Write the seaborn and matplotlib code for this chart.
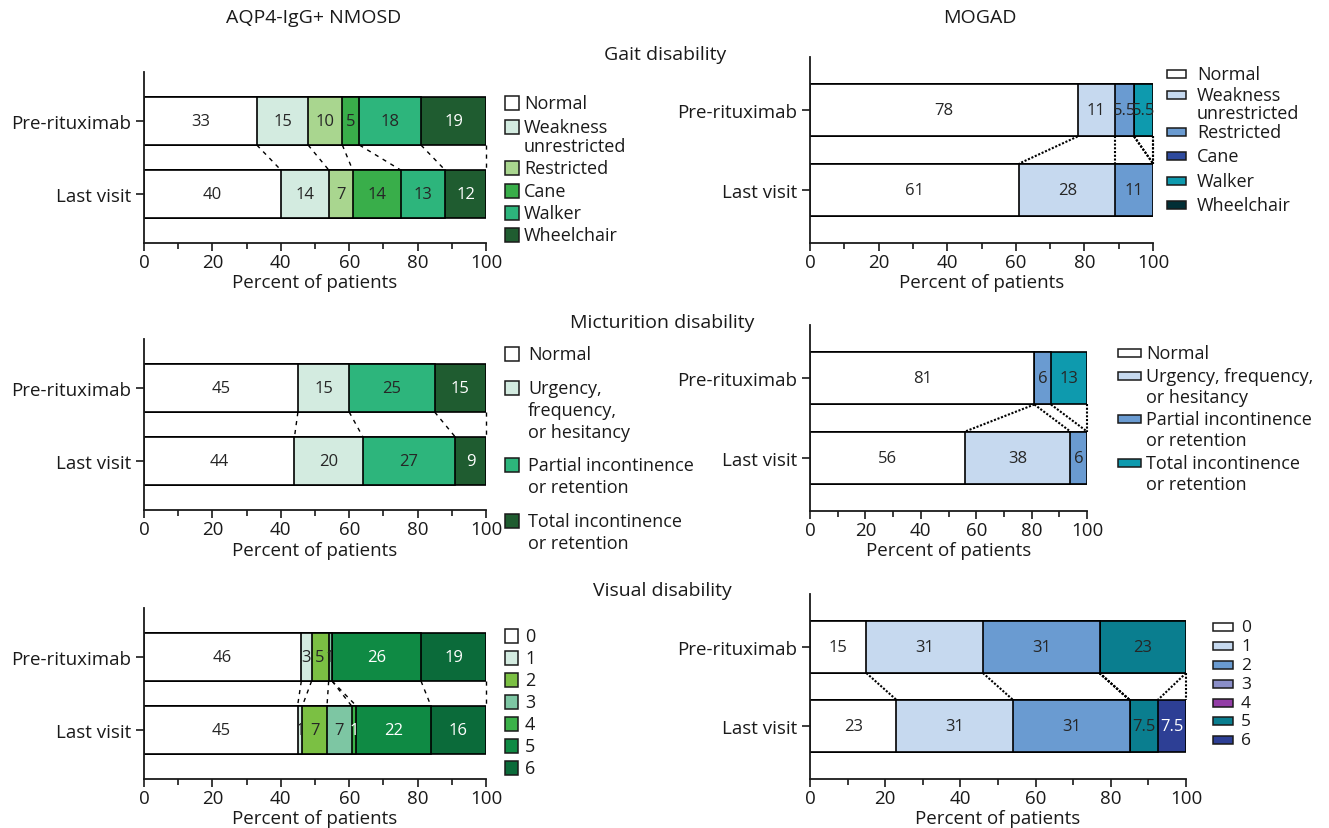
import numpy as np
import pandas as pd
import matplotlib
matplotlib.use("Agg")
import matplotlib.pyplot as plt
import seaborn as sns
from matplotlib.patches import Rectangle

# ---------------- data ----------------
TIMEPOINTS = ["Pre-rituximab", "Last visit"]

gait_cats = ["Normal", "Weakness\nunrestricted", "Restricted", "Cane", "Walker", "Wheelchair"]
gait_nmosd_pre = [33, 15, 10, 5, 18, 19]
gait_nmosd_last = [40, 14, 7, 14, 13, 12]
gait_mogad_pre = [78, 11, 5.5, 0, 5.5, 0]
gait_mogad_last = [61, 28, 11, 0, 0, 0]

mict_cats_nmosd = ["Normal", "Urgency,\nfrequency,\nor hesitancy",
                   "Partial incontinence\nor retention", "Total incontinence\nor retention"]
mict_cats_mogad = ["Normal", "Urgency, frequency,\nor hesitancy",
                   "Partial incontinence\nor retention", "Total incontinence\nor retention"]
mict_nmosd_pre = [45, 15, 25, 15]
mict_nmosd_last = [44, 20, 27, 9]
mict_mogad_pre = [81, 0, 6, 13]
mict_mogad_last = [56, 38, 6, 0]

vis_cats = ["0", "1", "2", "3", "4", "5", "6"]
vis_nmosd_pre = [46, 3, 5, 1, 0, 26, 19]
vis_nmosd_last = [44.9, 1.4, 7.2, 7.2, 1.4, 21.8, 16.1]
vis_mogad_pre = [15, 31, 31, 0, 0, 23, 0]
vis_mogad_last = [23, 31, 31, 0, 0, 7.5, 7.5]

# ---------------- styles ----------------
DK, WH = "#262626", "#ffffff"
gait_green = ["#ffffff", "#d3ebe0", "#a9d68f", "#39ae4a", "#2db57c", "#1f5c30"]
gait_green_txt = [DK, DK, DK, DK, DK, WH]
mict_green = ["#ffffff", "#d3ebe0", "#2db57c", "#1f5c30"]
mict_green_txt = [DK, DK, DK, WH]
vis_green = ["#ffffff", "#d3ebe0", "#7bc043", "#7dc6a3", "#3bb149", "#0f8a44", "#0b6b3a"]
vis_green_txt = [DK, DK, DK, DK, WH, WH, WH]

gait_blue = ["#ffffff", "#c6d9ef", "#6a9bd1", "#2e4a9e", "#0e9aae", "#022f36"]
gait_blue_txt = [DK, DK, DK, WH, DK, WH]
mict_blue = ["#ffffff", "#c6d9ef", "#6a9bd1", "#0e9aae"]
mict_blue_txt = [DK, DK, DK, DK]
vis_blue = ["#ffffff", "#c6d9ef", "#6a9bd1", "#8a8ec8", "#933ea6", "#0a7e8f", "#2d3f95"]
vis_blue_txt = [DK, DK, DK, DK, WH, DK, WH]

sns.set_style("ticks")
plt.rcParams["font.family"] = ["Open Sans", "DejaVu Sans"]
plt.rcParams["text.color"] = "#1a1a1a"
plt.rcParams["axes.labelcolor"] = "#1a1a1a"
plt.rcParams["xtick.color"] = "#1a1a1a"
plt.rcParams["ytick.color"] = "#1a1a1a"

W, H = 1329, 829
fig = plt.figure(figsize=(W / 100, H / 100), dpi=100)
fig.patch.set_facecolor("white")

FS_TICK = 13.5
FS_LAB = 12
FS_LEG = 13
BAR_H = 0.66


def fx(px):
    return px / W


def fy(py):
    return 1 - py / H


def fmt(v):
    return f"{v:g}" if float(2 * v).is_integer() else f"{v:.0f}"


def make_df(cats, pre, last):
    rows = []
    for t, vals in zip(TIMEPOINTS, [pre, last]):
        cum = np.cumsum(vals)
        for c, v, cu in zip(cats, vals, cum):
            rows.append(dict(time=t, category=c, value=v, cum=cu))
    return pd.DataFrame(rows)


def panel(rect, cats, pre, last, colors, tcolors, dotted):
    x0, top, x1, bot = rect
    ax = fig.add_axes([fx(x0), fy(bot), (x1 - x0) / W, (bot - top) / H])
    df = make_df(cats, pre, last)
    for cat, col in reversed(list(zip(cats, colors))):
        sub = df[df.category == cat]
        sns.barplot(data=sub, x="cum", y="time", order=TIMEPOINTS, orient="h",
                    color=col, saturation=1, edgecolor="black", linewidth=1.2,
                    width=BAR_H, errorbar=None, ax=ax)
    for i, t in enumerate(TIMEPOINTS):
        sub = df[df.time == t]
        for (_, r), tc in zip(sub.iterrows(), tcolors):
            if r.value > 0:
                ax.text(r.cum - r.value / 2, i, fmt(r.value), ha="center",
                        va="center", color=tc, fontsize=FS_LAB)
    cp = df[df.time == TIMEPOINTS[0]].cum.values
    cl = df[df.time == TIMEPOINTS[1]].cum.values
    for a, b in zip(cp, cl):
        if dotted:
            ax.plot([a, b], [BAR_H / 2, 1 - BAR_H / 2], color="black", lw=1.5,
                    ls=(0, (1, 0.8)), clip_on=False, zorder=3)
        else:
            ax.plot([a, b], [BAR_H / 2, 1 - BAR_H / 2], color="black", lw=1.0,
                    ls=(0, (3, 3.5)), clip_on=False, zorder=3)
    ax.set_xlim(0, 100)
    ax.set_ylim(1.67, -0.67)
    ax.set_xticks(range(0, 101, 20))
    ax.set_xticks(range(10, 100, 20), minor=True)
    ax.tick_params(axis="x", which="major", length=6, width=1.2, pad=1, labelsize=FS_TICK)
    ax.tick_params(axis="x", which="minor", length=4, width=1.2)
    ax.tick_params(axis="y", length=6, width=1.2, pad=3, labelsize=FS_TICK)
    ax.set_ylabel("")
    ax.set_xlabel("Percent of patients", fontsize=FS_TICK, labelpad=2)
    sns.despine(ax=ax)
    for s in ("left", "bottom"):
        ax.spines[s].set_linewidth(1.3)
        ax.spines[s].set_color("#1a1a1a")
    return ax


def legend(cats, colors, xp, pw, ph, xt, ys, gap, fs):
    for cat, col, y in zip(cats, colors, ys):
        fig.add_artist(Rectangle((fx(xp), fy(y + ph / 2)), pw / W, ph / H,
                                 transform=fig.transFigure, facecolor=col,
                                 edgecolor="#1a1a1a", lw=1.1))
        for k, line in enumerate(cat.split("\n")):
            fig.text(fx(xt), fy(y + k * gap), line, ha="left", va="center", fontsize=fs)


# ---------------- panels ----------------
panel((144, 73, 486, 244), gait_cats, gait_nmosd_pre, gait_nmosd_last, gait_green, gait_green_txt, False)
panel((810, 58, 1153, 244), gait_cats, gait_mogad_pre, gait_mogad_last, gait_blue, gait_blue_txt, True)
panel((144, 340, 486, 511), mict_cats_nmosd, mict_nmosd_pre, mict_nmosd_last, mict_green, mict_green_txt, False)
panel((810, 326, 1087, 512), mict_cats_mogad, mict_mogad_pre, mict_mogad_last, mict_blue, mict_blue_txt, True)
panel((144, 609, 486, 780), vis_cats, vis_nmosd_pre, vis_nmosd_last, vis_green, vis_green_txt, False)
panel((810, 595, 1186, 780), vis_cats, vis_mogad_pre, vis_mogad_last, vis_blue, vis_blue_txt, True)

# ---------------- legends ----------------
legend(gait_cats, gait_green, 505, 14, 14, 524, [104, 128, 169, 192, 214, 236], 19, FS_LEG)
legend(gait_cats, gait_blue, 1167, 19, 8, 1197, [75, 96, 133, 157, 182, 206], 18, FS_LEG)
legend(mict_cats_nmosd, mict_green, 505, 14, 14, 528, [355, 389, 466, 522], 22, FS_LEG)
legend(mict_cats_mogad, mict_blue, 1118, 23, 8, 1146, [354, 377, 420, 464], 21, FS_LEG)
legend(vis_cats, vis_green, 505, 13, 14, 525, [637, 659, 681, 703, 725, 747, 769], 0, FS_LEG)
legend(vis_cats, vis_blue, 1213, 20, 8, 1241, [628, 647, 666, 685, 704, 722, 741], 0, 12.5)

# ---------------- titles ----------------
fig.text(fx(314), fy(18), "AQP4-IgG+ NMOSD", ha="center", va="center", fontsize=14)
fig.text(fx(980), fy(18), "MOGAD", ha="center", va="center", fontsize=14)
fig.text(fx(665), fy(55), "Gait disability", ha="center", va="center", fontsize=14)
fig.text(fx(662), fy(323), "Micturition disability", ha="center", va="center", fontsize=14)
fig.text(fx(662), fy(591), "Visual disability", ha="center", va="center", fontsize=14)

fig.savefig("out.png", dpi=100, facecolor="white")
